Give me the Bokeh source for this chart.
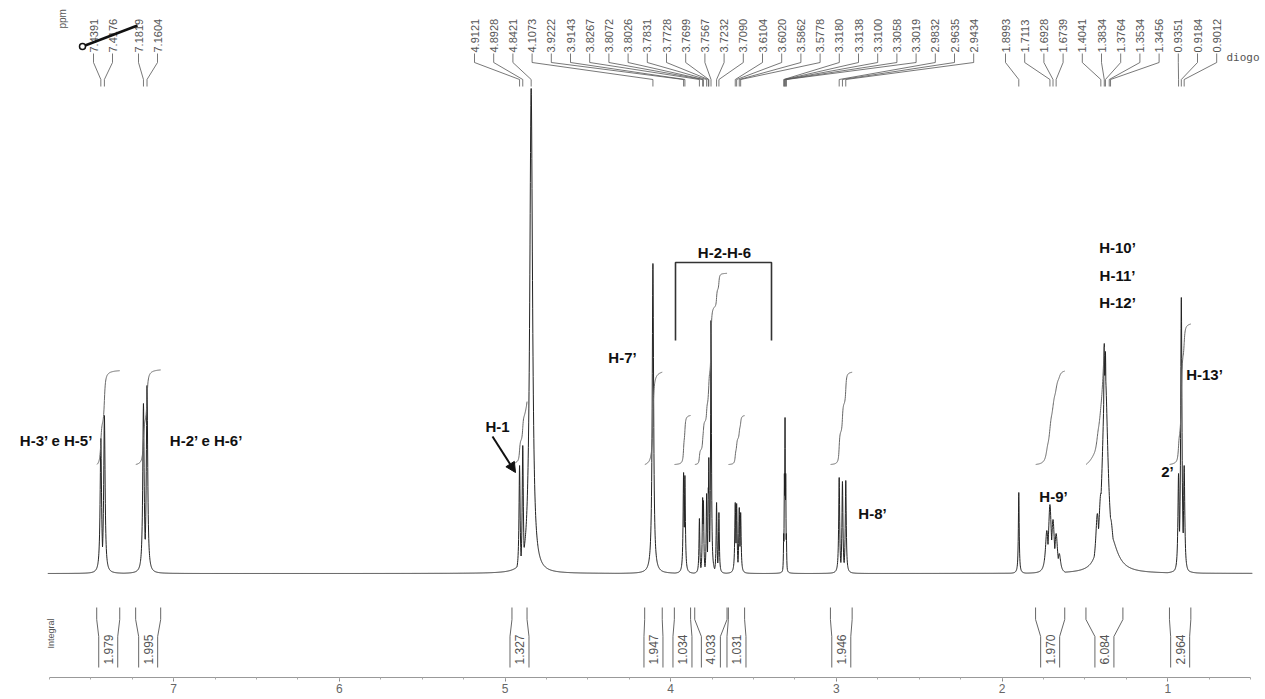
import numpy as np
from bokeh.plotting import figure
from bokeh.models import Range1d, FixedTicker, Arrow, NormalHead, Label
from bokeh.embed import file_html
from bokeh.resources import INLINE
from bokeh.core.properties import value

# ---------------- data ----------------
# resonance lines: position (ppm), height (intensity units), half width (ppm)
line_ppm = [7.4391, 7.4176, 7.1819, 7.1604,
            4.9121, 4.8928, 4.8421, 4.1073,
            3.9222, 3.9143, 3.8267, 3.8072, 3.8026, 3.7831, 3.7728, 3.7699,
            3.7567, 3.7232, 3.7090, 3.6104, 3.6020, 3.5862, 3.5778,
            3.3180, 3.3138, 3.3100, 3.3058, 3.3019,
            2.9832, 2.9635, 2.9434, 1.8993,
            1.7300, 1.7113, 1.6928, 1.6739, 1.6550,
            1.4250, 1.4041, 1.3834, 1.3764, 1.3780, 1.3534, 1.3456, 1.3500,
            0.9351, 0.9184, 0.9012]
line_height = [135, 158, 170, 188,
               108, 128, 485, 310,
               101, 98, 55, 76, 73, 80, 86, 116,
               253, 71, 61, 71, 70, 66, 61,
               40, 100, 156, 100, 40,
               96, 92, 93, 81,
               43, 69, 54, 40, 20,
               60, 80, 230, 222, 200, 70, 55, 40,
               100, 276, 108]
line_hwhm = [0.005, 0.005, 0.005, 0.005,
             0.004, 0.004, 0.010, 0.005,
             0.0035, 0.0035, 0.003, 0.003, 0.003, 0.003, 0.003, 0.003,
             0.003, 0.003, 0.003, 0.0035, 0.0035, 0.0035, 0.0035,
             0.002, 0.002, 0.002, 0.002, 0.002,
             0.0035, 0.0035, 0.0035, 0.003,
             0.010, 0.010, 0.010, 0.010, 0.010,
             0.012, 0.015, 0.006, 0.006, 0.020, 0.012, 0.020, 0.050,
             0.0045, 0.0045, 0.0045]

# printed peak labels
peaks_left = [7.4391, 7.4176, 7.1819, 7.1604]
peaks_mid = [4.9121, 4.8928, 4.8421, 4.1073, 3.9222, 3.9143, 3.8267, 3.8072,
             3.8026, 3.7831, 3.7728, 3.7699, 3.7567, 3.7232, 3.7090, 3.6104,
             3.6020, 3.5862, 3.5778, 3.3180, 3.3138, 3.3100, 3.3058, 3.3019,
             2.9832, 2.9635, 2.9434]
peaks_right = [1.8993, 1.7113, 1.6928, 1.6739, 1.4041, 1.3834, 1.3764,
               1.3534, 1.3456, 0.9351, 0.9184, 0.9012]

# integral regions
int_start = [7.464, 7.229, 4.958, 4.157, 3.978, 3.855, 3.652, 3.036, 1.798, 1.494, 0.990]
int_end = [7.325, 7.078, 4.867, 4.051, 3.880, 3.660, 3.554, 2.905, 1.622, 1.271, 0.861]
int_value = [1.979, 1.995, 1.327, 1.947, 1.034, 4.033, 1.031, 1.946, 1.970, 6.084, 2.964]

# assignments
ann_text = ["H-3\u2019 e H-5\u2019", "H-2\u2019 e H-6\u2019", "H-1", "H-7\u2019", "H-2-H-6",
            "H-8\u2019", "H-9\u2019", "H-10\u2019", "H-11\u2019", "H-12\u2019", "H-13\u2019", "2\u2019"]

x_ticks = [1, 2, 3, 4, 5, 6, 7]
spectrum_window = (0.49, 7.76)

# ---------------- layout (page pixels) ----------------
W, H = 1265, 699
PX0, PXS = 504.5, 165.7          # page x of 5 ppm, px per ppm
BASE_PY = 573                    # page y of spectrum baseline
AXIS_H = 22
FRAME_BOTTOM = H - AXIS_H        # page y of frame bottom (axis line)


def ppm_at(px):
    return 5 - (np.asarray(px, dtype=float) - PX0) / PXS


def px_of(ppm):
    return PX0 + PXS * (5 - np.asarray(ppm, dtype=float))


def v_at(py):
    return BASE_PY - np.asarray(py, dtype=float)


ann_px = [56, 206, 497, 622, 724, 872, 1053, 1117, 1117, 1117, 1204, 1167]
ann_py = [440, 440, 426, 357, 252, 513, 496, 247, 275, 302, 374, 471]

left_label_px = [93, 112, 138, 157]
mid_label_px = [474 + 19.2 * i for i in range(len(peaks_mid))]
right_label_px = [1005 + 19.2 * i for i in range(len(peaks_right))]

p = figure(width=W, height=H,
           x_range=Range1d(float(ppm_at(0)), float(ppm_at(W))),
           y_range=Range1d(float(v_at(FRAME_BOTTOM)), float(v_at(0))),
           output_backend="svg", toolbar_location=None, min_border=0,
           min_border_bottom=AXIS_H,
           y_axis_location=None, outline_line_color=None)
p.xgrid.visible = False
p.ygrid.visible = False

ax = p.xaxis[0]
ax.ticker = FixedTicker(ticks=x_ticks, minor_ticks=list(np.arange(0.5, 7.76, 0.25)))
ax.bounds = (0.5, 7.75)
ax.major_tick_in = 0
ax.major_tick_out = 4
ax.minor_tick_in = 0
ax.minor_tick_out = 2
ax.major_label_standoff = 2
ax.axis_line_color = "#999999"
ax.major_tick_line_color = "#888888"
ax.minor_tick_line_color = "#aaaaaa"
ax.major_label_text_font = "Liberation Sans"
ax.major_label_text_font_size = "12px"
ax.major_label_text_color = "#666666"

# ---------------- spectrum ----------------
grid = np.union1d(np.arange(spectrum_window[0], spectrum_window[1], 0.001), np.array(line_ppm))
spec = np.zeros_like(grid)
for c, h, w in zip(line_ppm, line_height, line_hwhm):
    spec = np.maximum(spec, h / (1 + ((grid - c) / w) ** 2))
p.line(grid, spec, color="#222222", line_width=1)

# ---------------- integral curves ----------------
INT_BASE_PY = 464
INT_SCALE = 47.4
int_cap_py = {9: 345}
for k, (s, e, val) in enumerate(zip(int_start, int_end, int_value)):
    m = (grid <= s) & (grid >= e)
    xs = grid[m][::-1]
    ys = spec[m][::-1]
    cum = np.concatenate([[0], np.cumsum((ys[1:] + ys[:-1]) / 2 * np.abs(np.diff(xs)))])
    cum = cum / cum[-1]
    vs = v_at(INT_BASE_PY) + val * INT_SCALE * cum
    if k in int_cap_py:
        keep = vs <= v_at(int_cap_py[k])
        xs, vs = xs[keep], vs[keep]
    p.line(xs, vs, color="#666666", line_width=1)

# ---------------- top peak labels ----------------
TXT_PY, K1_PY, K2_PY, END_PY = 52, 62, 79, 86
lab_x, lab_t, con_x, con_y = [], [], [], []
for peaks, lpx in ((peaks_left, left_label_px), (peaks_mid, mid_label_px),
                   (peaks_right, right_label_px)):
    for pk, lx in zip(peaks, lpx):
        lab_x.append(float(ppm_at(lx)))
        lab_t.append(f"{pk:.4f}")
        con_x.append([float(ppm_at(lx)), float(ppm_at(lx)), pk, pk])
        con_y.append([float(v_at(TXT_PY + 1)), float(v_at(K1_PY)),
                      float(v_at(K2_PY)), float(v_at(END_PY))])
p.multi_line(con_x, con_y, color="#555555", line_width=0.8)
p.text(lab_x, [float(v_at(TXT_PY))] * len(lab_x), text=lab_t, angle=np.pi / 2,
       text_align="left", text_baseline="middle", text_font=value("Liberation Sans"),
       text_font_size="11px", text_color="#555555")
p.text([float(ppm_at(62))], [float(v_at(28))], text=["ppm"], angle=np.pi / 2,
       text_align="left", text_baseline="middle", text_font=value("Liberation Sans"),
       text_font_size="10px", text_color="#555555")
p.text([float(ppm_at(1226))], [float(v_at(57))], text=["diogo"],
       text_align="left", text_baseline="middle", text_font=value("DejaVu Sans Mono"),
       text_font_size="11px", text_color="#555555")

# pen stroke over the first labels
pen_px = [82, 137]
pen_py = [46, 25]
p.line(ppm_at(pen_px), v_at(pen_py), color="#111111", line_width=2.5)
p.scatter([float(ppm_at(pen_px[0]))], [float(v_at(pen_py[0]))], size=6,
          fill_color="white", line_color="#111111", line_width=1.5)

# ---------------- integral brackets (bottom) ----------------
B_TOP, B_K1, B_K2, B_BOT = 607, 619, 636, 667
HALF_IN = 9.5
br_x, br_y, il_x = [], [], []
for s, e in zip(int_start, int_end):
    xl, xr = float(px_of(s)), float(px_of(e))
    xc = (xl + xr) / 2
    br_x.append(list(ppm_at([xl, xl, xc - HALF_IN, xc - HALF_IN])))
    br_y.append(list(v_at([B_TOP, B_K1, B_K2, B_BOT])))
    br_x.append(list(ppm_at([xr, xr, xc + HALF_IN, xc + HALF_IN])))
    br_y.append(list(v_at([B_TOP, B_K1, B_K2, B_BOT])))
    il_x.append(float(ppm_at(xc)))
p.multi_line(br_x, br_y, color="#555555", line_width=0.9)
p.text(il_x, [float(v_at(664))] * len(il_x), text=[f"{v:.3f}" for v in int_value],
       angle=np.pi / 2, text_align="left", text_baseline="middle",
       text_font=value("Liberation Sans"), text_font_size="12px", text_color="#555555")
p.text([float(ppm_at(50))], [float(v_at(648))], text=["Integral"], angle=np.pi / 2,
       text_align="left", text_baseline="middle", text_font=value("Liberation Sans"),
       text_font_size="9px", text_color="#555555")

# ---------------- assignments ----------------
p.text(list(ppm_at(ann_px)), list(v_at(ann_py)), text=ann_text,
       text_align="center", text_baseline="middle", text_font=value("Liberation Sans"),
       text_font_size="15px", text_font_style="bold", text_color="#111111")

# H-2 ... H-6 bracket
brk_px = [675, 675, 771, 771]
brk_py = [340, 262, 262, 340]
p.line(ppm_at(brk_px), v_at(brk_py), color="#333333", line_width=1.6)

# H-1 arrow
p.add_layout(Arrow(end=NormalHead(size=10, fill_color="#111111", line_color="#111111"),
                   x_start=float(ppm_at(492)), y_start=float(v_at(436)),
                   x_end=float(ppm_at(515)), y_end=float(v_at(472)),
                   line_color="#111111", line_width=2))

# axis unit label
p.add_layout(Label(x=float(ppm_at(22)), y=float(v_at(689)), text="ppm",
                   text_align="center", text_baseline="middle",
                   text_font="Liberation Sans", text_font_size="12px",
                   text_color="#555555"))

open("out.html", "w").write(file_html(p, INLINE))
